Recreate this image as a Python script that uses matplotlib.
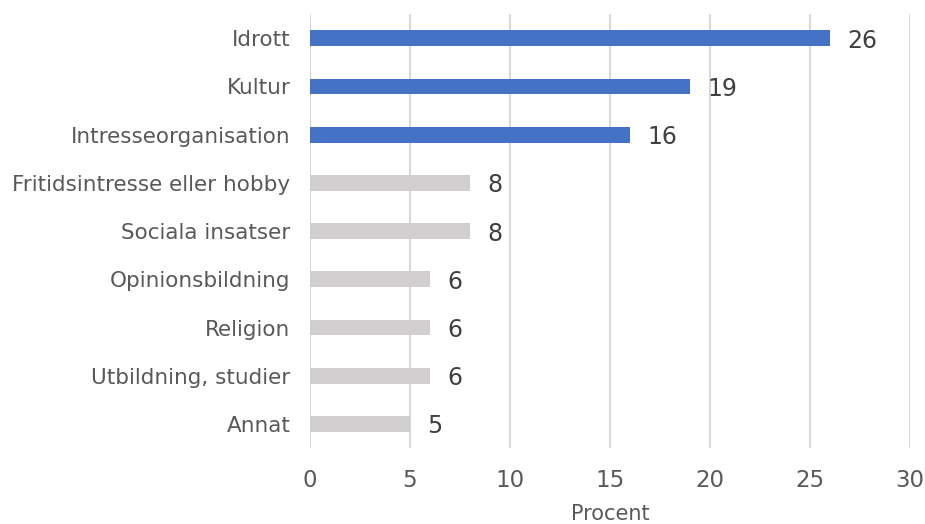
import matplotlib
matplotlib.use("Agg")
from matplotlib import pyplot as plt

categories = ["Idrott", "Kultur", "Intresseorganisation", "Fritidsintresse eller hobby",
              "Sociala insatser", "Opinionsbildning", "Religion", "Utbildning, studier", "Annat"]
values = [26, 19, 16, 8, 8, 6, 6, 6, 5]
highlight = [True, True, True, False, False, False, False, False, False]

BLUE = "#4472C4"
GREY = "#D0CECE"

plt.rcParams["font.family"] = ["DejaVu Sans"]

fig = plt.figure(figsize=(9.25, 5.24), dpi=100)
ax = fig.add_axes([0.335, 0.145, 0.649, 0.828])

ypos = list(range(len(categories)))
colors = [BLUE if h else GREY for h in highlight]
ax.barh(ypos, values, height=0.33, color=colors, zorder=3)

for y, v in zip(ypos, values):
    ax.text(v + 0.85, y, str(v), va="center_baseline", ha="left", fontsize=17, color="#404040")

ax.set_ylim(len(categories) - 0.5, -0.5)
ax.set_xlim(0, 30)
ax.set_xticks(range(0, 31, 5))
ax.set_yticks(ypos)
ax.set_yticklabels(categories, fontsize=15.5, color="#595959")
ax.tick_params(axis="x", labelsize=16.5, labelcolor="#595959", length=0, pad=15)
ax.tick_params(axis="y", length=0, pad=14)
ax.grid(axis="x", color="#D9D9D9", linewidth=1.5, zorder=0)
for s in ax.spines.values():
    s.set_visible(False)
ax.set_xlabel("Procent", fontsize=15, color="#595959", labelpad=9)

fig.savefig("out.png", dpi=100)
